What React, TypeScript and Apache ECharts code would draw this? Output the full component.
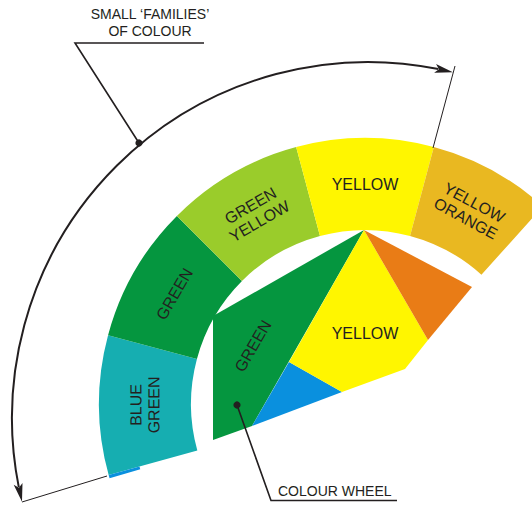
import React, { useEffect, useRef } from "react";
import * as echarts from "echarts";

const W = 532;
const H = 505;

// Outer band: small 'families' of colour (angles in degrees, 0 = right, counter-clockwise)
const bandLabels = ["BLUE\nGREEN", "GREEN", "GREEN\nYELLOW", "YELLOW", "YELLOW\nORANGE", ""];
const bandColors = ["#16AEB1", "#05963F", "#9ACC2B", "#FFF600", "#E9B821", "#0A90DE"];
const bandFrom = [195.5, 165, 135, 105, 75, 196.2];
const bandTo = [165, 135, 105, 75, 48, 195.5];
const bandInner = [174, 174, 174, 174, 174, 234];
const bandOuter = [266, 266, 266, 266, 266, 266];
const bandCenter = [365, 404];
const bandLabelRadius = 220;

// Inner colour wheel: fan of polygons sharing one apex
const wheelLabels = ["GREEN", "", "YELLOW", ""];
const wheelColors = ["#05963F", "#0A90DE", "#FFF600", "#E97C16"];
const wheelShapes = [
  [[364, 230], [213, 316], [213, 440], [252, 426]],
  [[289, 362], [342, 392], [252, 426]],
  [[364, 230], [289, 362], [342, 392], [405, 369], [428, 340]],
  [[364, 230], [472, 287], [428, 340]],
];
const wheelLabelAt = [[253, 346], [0, 0], [365, 333], [0, 0]];
const wheelLabelTurn = [60, 0, 0, 0];

// Annotation: arc spanning the small families
const familyArcCenter = [368, 418];
const familyArcRadius = 356;
const familyArcFrom = 193.6;
const familyArcTo = 76.2;
const familyTopExt = [[455, 66], [433, 148]];
const familyBottomExt = [[22, 502], [107, 476]];
const familyLeader = [[204, 43], [75, 43], [139, 143]];
const familyText = ["SMALL \u2018FAMILIES\u2019", "OF COLOUR"];
const familyTextAt = [[150, 14], [150, 30.5]];

const wheelLeader = [[237, 405], [271, 500.5], [397, 500.5]];
const wheelText = "COLOUR WHEEL";
const wheelTextAt = [278, 491];

const FONT = "'Liberation Sans', Arial, Helvetica, sans-serif";
const INK = "#231F20";
const rad = (d: number) => (d * Math.PI) / 180;

function renderBand(params: any, api: any) {
  const i = params.dataIndex;
  const c = api.coord(bandCenter);
  const r0 = api.size([bandInner[i], 0])[0];
  const r = api.size([bandOuter[i], 0])[0];
  const lr = api.size([bandLabelRadius, 0])[0];
  const mid = (bandFrom[i] + bandTo[i]) / 2;
  const children: any[] = [
    {
      type: "sector",
      shape: { cx: c[0], cy: c[1], r0, r, startAngle: -rad(bandFrom[i]), endAngle: -rad(bandTo[i]), clockwise: true },
      style: { fill: bandColors[i] },
    },
  ];
  if (bandLabels[i]) {
    children.push({
      type: "text",
      x: c[0] + lr * Math.cos(rad(mid)),
      y: c[1] - lr * Math.sin(rad(mid)),
      rotation: rad(mid - 90),
      style: {
        text: bandLabels[i],
        fill: INK,
        fontSize: 16,
        fontFamily: FONT,
        lineHeight: 18,
        align: "center",
        verticalAlign: "middle",
      },
    });
  }
  return { type: "group", children };
}

function renderWheel(params: any, api: any) {
  const i = params.dataIndex;
  const pts = wheelShapes[i].map((p) => api.coord(p));
  const children: any[] = [{ type: "polygon", shape: { points: pts }, style: { fill: wheelColors[i] } }];
  if (wheelLabels[i]) {
    const p = api.coord(wheelLabelAt[i]);
    children.push({
      type: "text",
      x: p[0],
      y: p[1],
      rotation: rad(wheelLabelTurn[i]),
      style: { text: wheelLabels[i], fill: INK, fontSize: 16, fontFamily: FONT, align: "center", verticalAlign: "middle" },
    });
  }
  return { type: "group", children };
}

function arrowHead(api: any, angleDeg: number, trimDeg: number) {
  const c = api.coord(familyArcCenter);
  const R = api.size([familyArcRadius, 0])[0];
  const tip = [c[0] + R * Math.cos(rad(angleDeg)), c[1] - R * Math.sin(rad(angleDeg))];
  const b = [c[0] + R * Math.cos(rad(angleDeg + trimDeg)), c[1] - R * Math.sin(rad(angleDeg + trimDeg))];
  const dx = tip[0] - b[0];
  const dy = tip[1] - b[1];
  const len = Math.hypot(dx, dy);
  const ux = dx / len;
  const uy = dy / len;
  const hw = 4.5;
  return {
    type: "polygon",
    shape: {
      points: [
        tip,
        [b[0] - uy * hw - ux * 1.5, b[1] + ux * hw - uy * 1.5],
        [b[0] + ux * 2.5, b[1] + uy * 2.5],
        [b[0] + uy * hw - ux * 1.5, b[1] - ux * hw - uy * 1.5],
      ],
    },
    style: { fill: INK },
  };
}

function renderAnnotations(params: any, api: any) {
  const c = api.coord(familyArcCenter);
  const R = api.size([familyArcRadius, 0])[0];
  const trim = 2.4;
  const line = (pts: number[][], w: number) => ({
    type: "polyline",
    shape: { points: pts.map((p) => api.coord(p)) },
    style: { stroke: INK, lineWidth: w, fill: null },
  });
  const dot = (p: number[]) => {
    const q = api.coord(p);
    return { type: "circle", shape: { cx: q[0], cy: q[1], r: 3.6 }, style: { fill: INK } };
  };
  const text = (t: string, p: number[], align: string) => {
    const q = api.coord(p);
    return {
      type: "text",
      x: q[0],
      y: q[1],
      style: { text: t, fill: INK, fontSize: 14, fontFamily: FONT, align, verticalAlign: "middle" },
    };
  };
  return {
    type: "group",
    children: [
      {
        type: "arc",
        shape: {
          cx: c[0],
          cy: c[1],
          r: R,
          startAngle: -rad(familyArcFrom - trim),
          endAngle: -rad(familyArcTo + trim),
          clockwise: true,
        },
        style: { stroke: INK, lineWidth: 2, fill: null },
      },
      arrowHead(api, familyArcTo, trim + 0.3),
      arrowHead(api, familyArcFrom, -(trim + 0.3)),
      line(familyTopExt, 1),
      line(familyBottomExt, 1),
      line(familyLeader, 1.6),
      dot(familyLeader[2]),
      text(familyText[0], familyTextAt[0], "center"),
      text(familyText[1], familyTextAt[1], "center"),
      line(wheelLeader, 1.6),
      dot(wheelLeader[0]),
      text(wheelText, wheelTextAt, "left"),
    ],
  };
}

export default function App() {
  const ref = useRef<HTMLDivElement>(null);
  useEffect(() => {
    document.body.style.margin = "0";
    const chart = echarts.init(ref.current!, null, { renderer: "svg" });
    chart.setOption({
      animation: false,
      backgroundColor: "#ffffff",
      grid: { left: 0, right: 0, top: 0, bottom: 0 },
      xAxis: { type: "value", min: 0, max: W, show: false },
      yAxis: { type: "value", min: 0, max: H, inverse: true, show: false },
      tooltip: { show: false },
      series: [
        {
          type: "custom",
          coordinateSystem: "cartesian2d",
          clip: false,
          silent: true,
          renderItem: renderBand,
          data: bandLabels.map((_, i) => [i, 0]),
        },
        {
          type: "custom",
          coordinateSystem: "cartesian2d",
          clip: false,
          silent: true,
          renderItem: renderWheel,
          data: wheelColors.map((_, i) => [i, 0]),
        },
        {
          type: "custom",
          coordinateSystem: "cartesian2d",
          clip: false,
          silent: true,
          z: 5,
          renderItem: renderAnnotations,
          data: [[0, 0]],
        },
      ],
    });
    return () => chart.dispose();
  }, []);
  return <div ref={ref} style={{ width: W, height: H, background: "#fff" }} />;
}
